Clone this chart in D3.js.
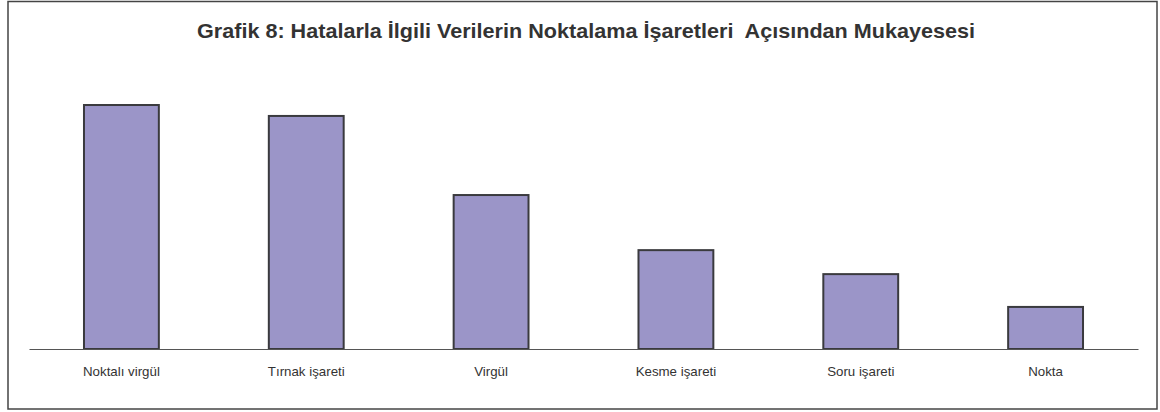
<!DOCTYPE html>
<html>
<head>
<meta charset="utf-8">
<script src="https://cdn.jsdelivr.net/npm/d3@7"></script>
<style>
  body { margin: 0; background: #fff; }
  svg { display: block; }
  text { font-family: "Liberation Sans", Arial, sans-serif; fill: #333; }
</style>
</head>
<body>
<svg id="chart" width="1160" height="412"></svg>
<script>
// data (no value axis, so units are estimated)
const categories = ["Noktalı virgül", "Tırnak işareti", "Virgül", "Kesme işareti", "Soru işareti", "Nokta"];
const values = [58, 55.4, 36.6, 23.5, 17.8, 10];
const title = "Grafik 8: Hatalarla İlgili Verilerin Noktalama İşaretleri  Açısından Mukayesesi";

const svg = d3.select("#chart");

// outer frame
svg.append("rect")
  .attr("x", 8).attr("y", 1.5)
  .attr("width", 1149).attr("height", 407.5)
  .attr("fill", "none")
  .attr("stroke", "#444")
  .attr("stroke-width", 1.5);

svg.append("text")
  .attr("x", 586).attr("y", 38)
  .attr("text-anchor", "middle")
  .attr("textLength", 778)
  .attr("lengthAdjust", "spacingAndGlyphs")
  .style("font-size", "20.5px")
  .style("font-weight", "bold")
  .style("white-space", "pre")
  .text(title);

const x = d3.scaleBand()
  .domain(categories)
  .range([29, 1138])
  .paddingInner(0.595)
  .paddingOuter(0.2975);

const y = d3.scaleLinear()
  .domain([0, 60])
  .range([349, 96.6]);

// bars
svg.selectAll(".bar")
  .data(categories)
  .join("rect")
  .attr("class", "bar")
  .attr("x", d => x(d))
  .attr("y", (d, i) => y(values[i]))
  .attr("width", x.bandwidth())
  .attr("height", (d, i) => y(0) - y(values[i]))
  .attr("fill", "#9b95c8")
  .attr("stroke", "#3a3a3e")
  .attr("stroke-width", 2);

// category axis
const axis = svg.append("g")
  .attr("transform", `translate(0,${y(0)})`)
  .call(d3.axisBottom(x).tickSize(0).tickPadding(17.5));
axis.select(".domain").attr("stroke", "#555").attr("stroke-width", 1.2);
axis.selectAll("text")
  .style("font-size", "13.3px")
  .style("font-family", "\"Liberation Sans\", Arial, sans-serif")
  .attr("fill", "#333");
</script>
</body>
</html>
